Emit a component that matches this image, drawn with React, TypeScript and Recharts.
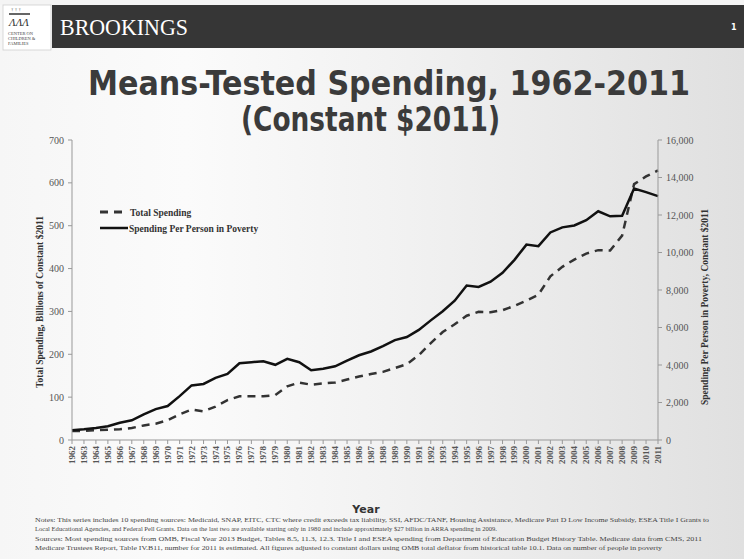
import React from "react";
import { LineChart, Line, XAxis, YAxis, Legend } from "recharts";

const years = [
  "1962","1963","1964","1965","1966","1967","1968","1969","1970","1971",
  "1972","1973","1974","1975","1976","1977","1978","1979","1980","1981",
  "1982","1983","1984","1985","1986","1987","1988","1989","1990","1991",
  "1992","1993","1994","1995","1996","1997","1998","1999","2000","2001",
  "2002","2003","2004","2005","2006","2007","2008","2009","2010","2011",
];

const totalSpending = [
  21, 21, 23, 24, 25, 28, 34, 38, 46, 60,
  71, 67, 78, 93, 102, 102, 102, 105, 125, 134,
  129, 132, 134, 141, 148, 154, 159, 168, 177, 198,
  226, 252, 270, 290, 299, 298, 303, 313, 325, 339,
  382, 404, 421, 435, 443, 442, 477, 597, 615, 629,
];

const perPerson = [
  520, 570, 640, 730, 920, 1050, 1370, 1650, 1810, 2340,
  2910, 2990, 3310, 3520, 4090, 4150, 4200, 4010, 4330, 4150,
  3720, 3800, 3930, 4230, 4520, 4720, 5010, 5330, 5490, 5870,
  6380, 6870, 7430, 8240, 8160, 8440, 8920, 9610, 10420, 10340,
  11070, 11340, 11440, 11720, 12200, 11930, 11960, 13410, 13220, 13010,
];

const leftTicks = [0, 100, 200, 300, 400, 500, 600, 700];
const rightTicks = [0, 2000, 4000, 6000, 8000, 10000, 12000, 14000, 16000];

const seriesNames = ["Total Spending", "Spending Per Person in Poverty"];

const titleLines = ["Means-Tested Spending, 1962-2011", "(Constant $2011)"];
const leftAxisLabel = "Total Spending, Billions of Constant $2011";
const rightAxisLabel = "Spending Per Person in Poverty, Constant $2011";
const xAxisLabel = "Year";

const notes = [
  "Notes: This series includes 10 spending sources: Medicaid, SNAP, EITC, CTC where credit exceeds tax liability, SSI, AFDC/TANF, Housing Assistance, Medicare Part D Low Income Subsidy, ESEA Title I Grants to",
  "Local Educational Agencies, and Federal Pell Grants. Data on the last two are available starting only in 1980 and include approximately $27 billion in ARRA spending in 2009.",
  "Sources: Most spending sources from OMB, Fiscal Year 2013 Budget, Tables 8.5, 11.3, 12.3. Title I and ESEA spending from Department of Education Budget History Table. Medicare data from CMS, 2011",
  "Medicare Trustees Report, Table IV.B11, number for 2011 is estimated. All figures adjusted to constant dollars using OMB total deflator from historical table 10.1. Data on number of people in poverty",
];
const noteWidths = [674, 462, 667, 627];
const noteBaselines = [522, 531, 541, 550];

const data = years.map((y, i) => ({
  year: y,
  total: totalSpending[i],
  perPerson: perPerson[i],
}));

const SERIF = "'Liberation Serif', 'DejaVu Serif', serif";
const SANS = "'DejaVu Sans', 'Liberation Sans', sans-serif";
const TITLE = "'DejaVu Sans Condensed', 'DejaVu Sans', sans-serif";

const XTick = (props: any) => {
  const { x, y, payload } = props;
  return (
    <text
      x={x}
      y={y}
      transform={`rotate(-90 ${x} ${y})`}
      textAnchor="end"
      dominantBaseline="central"
      fontFamily={SERIF}
      fontWeight="bold"
      fontSize={9}
      fill="#555"
    >
      {payload.value}
    </text>
  );
};

const renderLegend = () => (
  <svg width={180} height={30}>
    <line x1={0} y1={6} x2={26} y2={6} stroke="#333" strokeWidth={3} strokeDasharray="8 6" />
    <text x={30} y={9.5} fontFamily={SERIF} fontWeight="bold" fontSize={9.5} fill="#333">
      {seriesNames[0]}
    </text>
    <line x1={0} y1={22} x2={28} y2={22} stroke="#111" strokeWidth={2.5} />
    <text x={29} y={25.5} fontFamily={SERIF} fontWeight="bold" fontSize={9.5} fill="#333">
      {seriesNames[1]}
    </text>
  </svg>
);

const Background = () => (
  <svg width={744} height={559} style={{ position: "absolute", left: 0, top: 0 }}>
    <defs>
      <linearGradient id="bg" x1="0" y1="0" x2="1" y2="0">
        <stop offset="0" stopColor="#f6f6f6" />
        <stop offset="0.25" stopColor="#fbfbfb" />
        <stop offset="0.55" stopColor="#f1f1f1" />
        <stop offset="1" stopColor="#e0e0e0" />
      </linearGradient>
    </defs>
    <rect x={0} y={0} width={744} height={559} fill="url(#bg)" />
    <rect x={0} y={0} width={744} height={5} fill="#f4f4f4" />
    <rect x={52} y={5} width={692} height={43} fill="#363636" />
    <rect x={3} y={5} width={48} height={45} fill="#ffffff" stroke="#cfcfcf" strokeWidth={0.8} />
    <line x1={9} y1={14} x2={30} y2={14} stroke="#333" strokeWidth={1.5} />
    <text x={11} y={11} fontFamily={SERIF} fontSize={5} fill="#444">{"\u2020 \u2020 \u2020"}</text>
    <text x={9} y={26} fontFamily={SERIF} fontSize={11} fontStyle="italic" fill="#333">{"\u039B\u039B\u039B"}</text>
    <text x={8} y={35} fontFamily={SERIF} fontSize={4.5} fill="#444">CENTER ON</text>
    <text x={8} y={40} fontFamily={SERIF} fontSize={4.5} fill="#444">CHILDREN &amp;</text>
    <text x={8} y={45} fontFamily={SERIF} fontSize={4.5} fill="#444">FAMILIES</text>
    <text x={60} y={35} fontFamily={SERIF} fontSize={24} fill="#ffffff" textLength={128} lengthAdjust="spacingAndGlyphs">
      BROOKINGS
    </text>
    <text x={731} y={30} fontFamily={SANS} fontSize={8} fontWeight="bold" fill="#ffffff">1</text>
    <text x={88} y={95} fontFamily={TITLE} fontWeight="bold" fontSize={34} fill="#3b3b3b" textLength={602} lengthAdjust="spacingAndGlyphs">
      {titleLines[0]}
    </text>
    <text x={241} y={131} fontFamily={TITLE} fontWeight="bold" fontSize={34} fill="#3b3b3b" textLength={259} lengthAdjust="spacingAndGlyphs">
      {titleLines[1]}
    </text>
    <text x={40} y={302} transform="rotate(-90 40 302)" textAnchor="middle" dominantBaseline="central" fontFamily={SERIF} fontWeight="bold" fontSize={9.5} fill="#333">
      {leftAxisLabel}
    </text>
    <text x={705} y={307} transform="rotate(-90 705 307)" textAnchor="middle" dominantBaseline="central" fontFamily={SERIF} fontWeight="bold" fontSize={9.5} fill="#333">
      {rightAxisLabel}
    </text>
    <text x={366} y={513} textAnchor="middle" fontFamily={SANS} fontWeight="bold" fontSize={11} fill="#333">
      {xAxisLabel}
    </text>
    {notes.map((n, i) => (
      <text key={i} x={35} y={noteBaselines[i]} fontFamily={SERIF} fontSize={6.5} fill="#444" textLength={noteWidths[i]} lengthAdjust="spacingAndGlyphs">
        {n}
      </text>
    ))}
  </svg>
);

export default function App() {
  return (
    <div style={{ position: "absolute", left: 0, top: 0, width: 744, height: 559, overflow: "hidden" }}>
      <Background />
      <div style={{ position: "absolute", left: 0, top: 0 }}>
        <LineChart
          width={744}
          height={559}
          data={data}
          margin={{ top: 140, right: 46, bottom: 59, left: 32 }}
        >
          <XAxis
            dataKey="year"
            interval={0}
            tick={<XTick />}
            tickSize={4}
            tickMargin={2}
            height={30}
            stroke="#999"
            tickLine={{ stroke: "#999" }}
          />
          <YAxis
            yAxisId="left"
            orientation="left"
            domain={[0, 700]}
            ticks={leftTicks}
            width={40}
            tickSize={4}
            tickMargin={4}
            stroke="#999"
            tick={{ fontFamily: SERIF, fontSize: 10, fill: "#555" }}
          />
          <YAxis
            yAxisId="right"
            orientation="right"
            domain={[0, 16000]}
            ticks={rightTicks}
            width={40}
            tickSize={4}
            tickMargin={4}
            stroke="#999"
            tickFormatter={(v: number) => v.toLocaleString("en-US")}
            tick={{ fontFamily: SERIF, fontSize: 10, fill: "#555" }}
          />
          <Legend
            content={renderLegend}
            wrapperStyle={{ position: "absolute", left: 100, top: 206, width: 180, height: 30 }}
          />
          <Line
            yAxisId="left"
            type="linear"
            dataKey="total"
            name={seriesNames[0]}
            stroke="#333"
            strokeWidth={2.5}
            strokeDasharray="8 6"
            dot={false}
            isAnimationActive={false}
          />
          <Line
            yAxisId="right"
            type="linear"
            dataKey="perPerson"
            name={seriesNames[1]}
            stroke="#111"
            strokeWidth={2.5}
            dot={false}
            isAnimationActive={false}
          />
        </LineChart>
      </div>
    </div>
  );
}
